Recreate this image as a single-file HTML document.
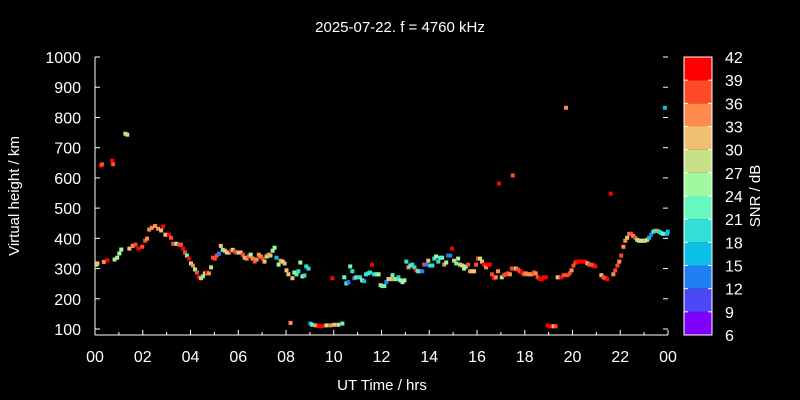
<!DOCTYPE html>
<html><head><meta charset="utf-8"><style>
html,body{margin:0;padding:0;background:#000;}
svg{display:block;font-family:"Liberation Sans",sans-serif;}
</style></head><body>
<svg id="chart" width="800" height="400" viewBox="0 0 800 400">
<rect width="800" height="400" fill="#000"/>
<text x="400" y="32" fill="#fff" font-size="15" text-anchor="middle">2025-07-22. f = 4760 kHz</text>
<g id="axes"></g>
<g id="points"></g>
<g id="cbar"></g>
<text x="382" y="390" fill="#fff" font-size="15" text-anchor="middle">UT Time / hrs</text>
<text transform="translate(19,196) rotate(-90)" fill="#fff" font-size="15" text-anchor="middle">Virtual height / km</text>
<text transform="translate(760,196) rotate(-90)" fill="#fff" font-size="15" text-anchor="middle">SNR / dB</text>
</svg>
<script>
const xTickLabels=["00","02","04","06","08","10","12","14","16","18","20","22","00"];
const yTicks=[100,200,300,400,500,600,700,800,900,1000];
const snrTicks=[6,9,12,15,18,21,24,27,30,33,36,39,42];
const snrColors=["#8000ff","#4c48f8","#2080f0","#0cc0e8","#33e0d8","#66f8c0","#a0f8a0","#c8e088","#f0c070","#ff8c4c","#ff4a28","#ff0000"];
const hours=[0.06,0.1,0.37,0.52,0.82,0.93,1.02,1.1,1.44,1.58,1.69,1.82,1.98,2.1,2.18,2.27,2.38,2.52,2.64,2.77,2.85,2.95,3.1,3.18,3.27,3.41,3.52,3.6,3.69,3.77,3.85,3.94,4.02,4.1,4.19,4.27,4.35,4.44,4.52,4.6,4.69,4.77,4.86,4.94,5.02,5.1,5.19,5.27,5.35,5.44,5.52,5.6,5.69,5.77,5.86,5.94,6.02,6.1,6.19,6.27,6.35,6.44,6.52,6.6,6.69,6.77,6.86,6.94,7.02,7.1,7.19,7.27,7.35,7.44,7.52,7.6,7.69,7.77,7.86,7.94,8.02,8.1,8.19,8.27,8.35,8.44,8.52,8.6,8.69,8.77,8.85,8.94,9.02,9.1,9.24,9.38,9.52,9.69,9.86,10.02,10.19,10.36,9.94,10.44,10.53,10.61,10.69,10.78,10.86,10.94,11.02,11.1,11.19,11.27,11.35,11.44,11.52,11.6,11.69,11.8,11.88,11.96,12.04,12.12,12.2,12.29,12.37,12.46,12.54,12.62,12.71,12.79,12.88,12.96,13.04,13.13,13.21,13.29,13.38,13.46,13.54,13.63,13.71,13.79,13.88,13.96,14.04,14.13,14.21,14.29,14.38,14.46,14.54,14.63,14.71,14.79,14.88,14.96,15.04,15.13,15.21,15.29,15.38,15.46,15.54,15.63,15.71,15.79,15.88,15.96,16.04,16.13,16.21,16.29,16.38,16.46,16.54,16.63,16.71,16.79,16.88,17.04,17.13,17.21,17.29,17.38,17.46,17.63,17.71,17.79,17.88,17.96,18.04,18.13,18.21,18.29,18.38,18.46,18.54,18.63,18.71,18.79,18.88,18.96,19.04,19.13,19.21,19.29,19.38,19.46,19.54,19.63,19.79,19.88,19.96,20.04,20.13,20.21,20.29,20.38,20.46,20.54,20.63,20.71,20.79,20.88,20.96,21.21,21.29,21.38,21.46,21.71,21.79,21.88,21.96,22.04,22.13,22.21,22.29,22.38,22.46,22.54,22.63,22.71,22.79,22.88,22.96,23.04,23.13,23.21,23.29,23.38,23.46,23.54,23.63,23.71,23.79,23.96,23.99,0.25,0.3,0.72,0.76,1.27,1.35,16.92,17.5,19.73,21.6,23.87];
const heights=[313,317,322,327,330,336,350,363,366,375,379,366,372,392,399,429,435,441,432,426,439,412,412,402,382,382,379,379,366,353,343,333,317,310,297,287,271,268,274,284,287,284,304,336,333,343,349,375,362,359,353,353,359,362,356,353,353,353,346,336,333,340,346,333,323,330,346,340,333,323,340,346,343,359,369,336,313,326,323,317,294,281,120,268,287,281,291,320,274,277,307,300,118,114,112,110,110,112,112,114,114,118,268,271,251,255,307,291,268,271,271,271,261,258,281,284,287,313,281,281,281,245,242,242,255,265,265,278,265,265,271,261,255,261,323,304,310,313,304,294,291,291,291,313,313,326,310,310,333,340,323,336,336,313,320,343,343,366,326,317,333,313,310,300,307,313,291,291,291,313,333,333,323,313,304,313,313,281,268,271,291,271,278,281,284,281,300,300,297,291,287,281,284,281,281,281,287,284,271,265,265,271,271,112,109,109,109,109,271,271,271,278,278,284,294,310,320,323,323,323,323,323,317,313,313,310,307,278,271,268,265,281,294,310,323,343,372,392,402,415,415,408,402,395,392,392,392,392,395,402,412,422,425,425,422,418,415,415,422,641,645,657,645,746,743,581,608,832,548,832];
const snr=[27,33,36,42,30,27,27,27,33,36,39,42,39,39,36,36,36,36,36,33,42,33,42,39,39,27,39,39,42,39,24,42,30,36,27,39,42,33,24,30,42,36,30,39,39,39,15,33,24,33,33,30,42,30,39,39,30,33,39,33,36,39,27,36,39,36,36,36,39,33,27,36,33,27,27,18,27,36,30,33,33,33,36,33,27,24,21,27,27,21,21,21,18,24,36,42,42,30,36,33,30,24,42,24,24,15,24,21,15,33,21,21,27,18,21,21,21,42,21,24,27,33,24,24,15,30,33,24,33,24,21,27,27,27,21,36,24,21,21,39,24,21,15,39,15,33,21,21,21,27,21,24,24,36,27,15,15,42,33,24,27,33,30,27,27,39,36,33,33,39,39,30,33,42,36,42,42,39,42,36,36,27,39,39,39,36,39,33,39,39,42,39,36,36,36,36,39,36,39,42,42,42,42,42,42,42,33,39,30,36,42,39,39,39,36,39,39,42,42,42,42,42,33,39,39,39,42,33,39,39,42,36,39,39,36,39,36,36,33,36,39,36,39,30,30,30,30,33,30,18,15,21,21,36,21,21,24,18,18,42,39,42,39,33,30,42,39,36,42,18];

const NS='http://www.w3.org/2000/svg';
const L=95,R=668,T=57,B=335;
const yTop=57,y100=329;
function xs(h){return L+h/24*(R-L);}
function ys(km){return y100-(km-100)/900*(y100-yTop);}
function mk(tag,attrs,parent){const e=document.createElementNS(NS,tag);for(const k in attrs)e.setAttribute(k,attrs[k]);parent.appendChild(e);return e;}
const axes=document.getElementById('axes');
let ln=mk('line',{x1:L,y1:T,x2:L,y2:B,stroke:'#fff','stroke-width':1},axes);


ln=mk('line',{x1:L,y1:B,x2:R,y2:B,stroke:'#fff','stroke-width':1},axes);


yTicks.forEach(v=>{const y=ys(v);
 let t=mk('line',{x1:L,y1:y,x2:L+5,y2:y,stroke:'#fff'},axes);
 
 
 t=mk('line',{x1:R-5,y1:y,x2:R,y2:y,stroke:'#fff'},axes);
 
 
 const tx=mk('text',{x:L-14,y:y+6,fill:'#fff','font-size':16,'text-anchor':'end'},axes);tx.textContent=v;
 
 
});
for(let h=0;h<=24;h++){const x=xs(h);const len=h%2?3:5;
 let t=mk('line',{x1:x,y1:B,x2:x,y2:B-len,stroke:'#fff'},axes);
 
 
}
xTickLabels.forEach((s,i)=>{const tx=mk('text',{x:xs(i*2),y:B+27,fill:'#fff','font-size':16,'text-anchor':'middle'},axes);tx.textContent=s;
 
 
});
function colorFor(v){let i=Math.floor((v-6)/3);if(i<0)i=0;if(i>11)i=11;return snrColors[i];}
const pts=document.getElementById('points');
hours.forEach((h,i)=>{const r=mk('rect',{x:xs(h)-2,y:ys(heights[i])-2,width:4,height:4,fill:colorFor(snr[i]-1)},pts);
 
 
});
const cb=document.getElementById('cbar');
const cL=684,cR=712,cT=57,cB=335,bh=(cB-cT)/12;
snrColors.forEach((c,i)=>{const r=mk('rect',{x:cL,y:cB-(i+1)*bh,width:cR-cL,height:bh,fill:c},cb);
 
 
});
let fr=mk('rect',{x:cL,y:cT,width:cR-cL,height:cB-cT,fill:'none',stroke:'#fff'},cb);


snrTicks.forEach((v,i)=>{const y=cB-i*bh;
 let t=mk('line',{x1:cL,y1:y,x2:cL+4,y2:y,stroke:'#fff'},cb);
 
 
 t=mk('line',{x1:cR-4,y1:y,x2:cR,y2:y,stroke:'#fff'},cb);
 
 
 const tx=mk('text',{x:725,y:y+6,fill:'#fff','font-size':16},cb);tx.textContent=v;
 
 
});
</script>
</body></html>
